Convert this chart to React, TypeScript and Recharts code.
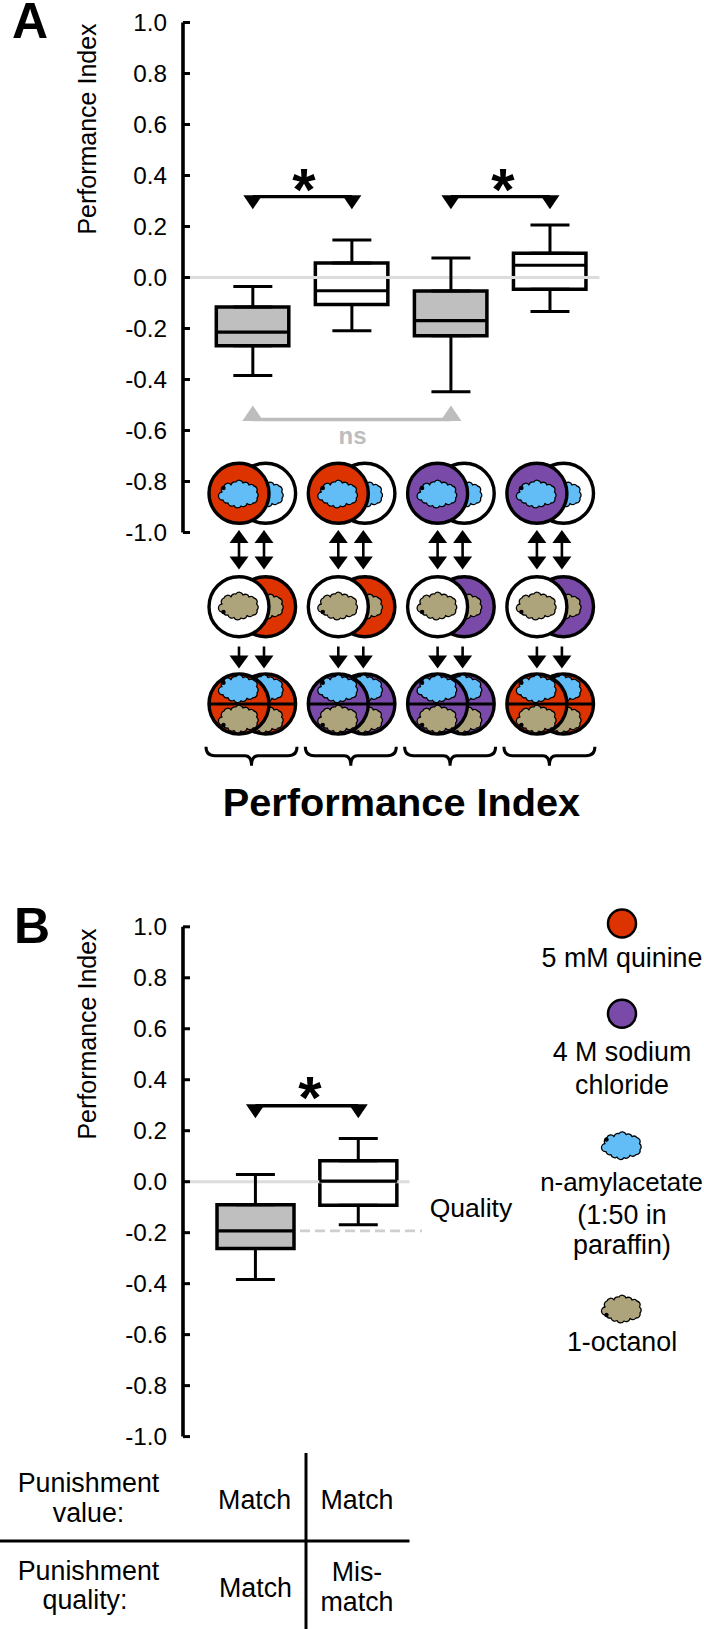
import React from 'react';
import { ComposedChart, Bar, Line, XAxis, YAxis, Cell, ErrorBar, ReferenceLine } from 'recharts';

// Panel A, four groups
const categoriesA = ['g1', 'g2', 'g3', 'g4'];
const whiskerLowA = [-0.384, -0.209, -0.448, -0.133];
const q1A = [-0.268, -0.106, -0.228, -0.046];
const medianA = [-0.214, -0.052, -0.169, 0.048];
const q3A = [-0.116, 0.057, -0.053, 0.095];
const whiskerHighA = [-0.035, 0.147, 0.076, 0.206];
const fillsA = ['#bfbfbf', '#ffffff', '#bfbfbf', '#ffffff'];
const bracketLeftA = [0.317, 0.317, null, null];
const bracketRightA = [null, null, 0.317, 0.317];
const bracketNsA = [-0.557, null, -0.557, null];

// Panel B, two groups
const categoriesB = ['match', 'mismatch'];
const whiskerLowB = [-0.384, -0.169];
const q1B = [-0.262, -0.092];
const medianB = [-0.193, 0.002];
const q3B = [-0.09, 0.082];
const whiskerHighB = [0.028, 0.169];
const fillsB = ['#bfbfbf', '#ffffff'];
const bracketB = [0.298, 0.298];

const yTicks = [1, 0.8, 0.6, 0.4, 0.2, 0, -0.2, -0.4, -0.6, -0.8, -1];

const FONT = '"Liberation Sans", Arial, sans-serif';
const RED = '#dd3300';
const PURPLE = '#7a4aa8';
const BLUE = '#62bcf5';
const TAN = '#aea47c';

// whiskers hang off the box edges so the stem never shows through the box
const buildRows = (cats: string[], lo: number[], q1: number[], med: number[], q3: number[], hi: number[]) =>
  cats.map((name, i) => ({
    name,
    median: med[i],
    q1: q1[i],
    q3: q3[i],
    box: [q1[i], q3[i]],
    lowErr: [q1[i] - lo[i], 0],
    highErr: [0, hi[i] - q3[i]],
  }));

const rowsA = buildRows(categoriesA, whiskerLowA, q1A, medianA, q3A, whiskerHighA).map((r, i) => ({
  ...r,
  left: bracketLeftA[i],
  right: bracketRightA[i],
  ns: bracketNsA[i],
}));
const rowsB = buildRows(categoriesB, whiskerLowB, q1B, medianB, q3B, whiskerHighB).map((r, i) => ({
  ...r,
  left: bracketB[i],
}));

const medianDot = (half: number) => (p: any) => (
  <line key={p.index} x1={p.cx - half} x2={p.cx + half} y1={p.cy} y2={p.cy} stroke="#000" strokeWidth={3.2} />
);

const downDot = (p: any) =>
  p.value == null || p.cy == null ? (
    <g key={p.index} />
  ) : (
    <path key={p.index} d={`M${p.cx - 9.5},${p.cy - 1.5} h19 l-9.5,14 z`} fill="#000" />
  );

const upDot = (p: any) =>
  p.value == null || p.cy == null ? (
    <g key={p.index} />
  ) : (
    <path key={p.index} d={`M${p.cx - 10.5},${p.cy + 1.5} h21 l-10.5,-15.5 z`} fill="#bdbdbd" />
  );

// scalloped outline of the odour cloud
const cloudEdge = [
  [-17, -2], [-15, -8], [-8, -9], [-3, -12], [4, -11], [10, -9], [15, -8], [17.5, -2], [18, 4],
  [14, 9], [8, 9.5], [2, 12], [-5, 11.5], [-11, 9], [-16, 6],
];
const cloudPath =
  `M${cloudEdge[0][0]},${cloudEdge[0][1]} ` +
  cloudEdge
    .slice(1)
    .concat([cloudEdge[0]])
    .map(([x, y]) => `A3.9,3.9 0 0 1 ${x},${y}`)
    .join(' ') +
  ' Z';

function Cloud({ x, y, fill, dotBelow }: { x: number; y: number; fill: string; dotBelow?: boolean }) {
  return (
    <g transform={`translate(${x},${y})`}>
      <path d={cloudPath} fill={fill} stroke="#000" strokeWidth={1.3} strokeLinejoin="round" />
      <circle cx={-15.5} cy={dotBelow ? 6 : -6} r={2.2} fill="#000" />
    </g>
  );
}

function Arrow({ x, y1, y2, both }: { x: number; y1: number; y2: number; both?: boolean }) {
  return (
    <g fill="#000">
      <line x1={x} x2={x} y1={y1 + 4} y2={y2 - 4} stroke="#000" strokeWidth={2.6} />
      <path d={`M${x - 9.5},${y2 - 13} h19 l-9.5,13 z`} />
      {both && <path d={`M${x - 9.5},${y1 + 13} h19 l-9.5,-13 z`} />}
    </g>
  );
}

const STEP = 99.3;
const R = 30;

function Dish({ x, y, fill, children }: { x: number; y: number; fill: string; children?: React.ReactNode }) {
  return (
    <g>
      <circle cx={x} cy={y} r={R} fill={fill} stroke="#000" strokeWidth={3.4} />
      {children}
    </g>
  );
}

function Group({ index, top, bottom }: { index: number; top: string; bottom: string }) {
  const x = 239 + index * STEP;
  const back = x + 26.6;
  const c2 = x + 25;
  return (
    <g>
      {/* first training step */}
      <Dish x={back} y={493.3} fill="#fff"><Cloud x={c2} y={494} fill={BLUE} /></Dish>
      <Dish x={x} y={493.3} fill={top}><Cloud x={x} y={494} fill={BLUE} /></Dish>
      <Arrow x={x} y1={530} y2={569.5} both />
      <Arrow x={x + 25} y1={530} y2={569.5} both />
      {/* second training step */}
      <Dish x={back} y={606.7} fill={top}><Cloud x={c2} y={606} fill={TAN} dotBelow /></Dish>
      <Dish x={x} y={606.7} fill="#fff"><Cloud x={x} y={606} fill={TAN} dotBelow /></Dish>
      <Arrow x={x} y1={642.5} y2={668.5} />
      <Arrow x={x + 25} y1={642.5} y2={668.5} />
      {/* test */}
      <Dish x={back} y={704} fill={bottom}>
        <line x1={back - R} x2={back + R} y1={704} y2={704} stroke="#000" strokeWidth={3} />
        <Cloud x={c2} y={688.7} fill={BLUE} />
        <Cloud x={c2} y={719} fill={TAN} dotBelow />
      </Dish>
      <Dish x={x} y={704} fill={bottom}>
        <line x1={x - R} x2={x + R} y1={704} y2={704} stroke="#000" strokeWidth={3} />
        <Cloud x={x} y={688.7} fill={BLUE} />
        <Cloud x={x} y={719} fill={TAN} dotBelow />
      </Dish>
      {/* brace */}
      <path
        transform={`translate(${206 + index * STEP},746.7)`}
        d="M0,0 Q0,9 9,9 H39 Q45.5,9 45.5,19 Q45.5,9 52,9 H82 Q91,9 91,0"
        fill="none"
        stroke="#000"
        strokeWidth={3}
      />
    </g>
  );
}

function Txt({ x, y, size = 26.8, weight, fill = '#000', anchor = 'middle', children, rotate }: any) {
  return (
    <text
      x={x}
      y={y}
      fontSize={size}
      fontWeight={weight}
      fill={fill}
      textAnchor={anchor}
      fontFamily={FONT}
      transform={rotate ? `rotate(${rotate} ${x} ${y})` : undefined}
    >
      {children}
    </text>
  );
}

const axisProps: any = {
  type: 'number',
  domain: [-1, 1],
  ticks: yTicks,
  interval: 0,
  allowDataOverflow: true,
  width: 60,
  tickFormatter: (v: number) => v.toFixed(1),
  tick: { fontSize: 24.3, fill: '#000', fontFamily: FONT },
  tickSize: -7,
  tickMargin: 23,
  axisLine: { stroke: '#000', strokeWidth: 3.6 },
  tickLine: { stroke: '#000', strokeWidth: 3 },
};

const whiskerProps: any = {
  direction: 'y',
  width: 19.5,
  stroke: '#000',
  strokeWidth: 3,
  isAnimationActive: false,
};

export default function App() {
  return (
    <div style={{ position: 'absolute', left: 0, top: 0, width: 704, height: 1629, background: '#fff', overflow: 'hidden' }}>
      <div style={{ position: 'absolute', left: 0, top: 0 }}>
        <ComposedChart width={704} height={560} data={rowsA} margin={{ top: 22.5, right: 104.5, bottom: 27.5, left: 123 }}>
          <XAxis dataKey="name" hide padding={{ left: 20.3, right: 0 }} />
          <YAxis {...axisProps} />
          <ReferenceLine y={0} stroke="#dcdcdc" strokeWidth={3} />
          <Line dataKey="q1" stroke="none" dot={false} isAnimationActive={false}>
            <ErrorBar dataKey="lowErr" {...whiskerProps} />
          </Line>
          <Line dataKey="q3" stroke="none" dot={false} isAnimationActive={false}>
            <ErrorBar dataKey="highErr" {...whiskerProps} />
          </Line>
          <Bar dataKey="box" barSize={72.5} stroke="#000" strokeWidth={3.5} isAnimationActive={false}>
            {fillsA.map((f, i) => (
              <Cell key={i} fill={f} />
            ))}
          </Bar>
          <Line dataKey="median" stroke="none" dot={medianDot(37)} isAnimationActive={false} />
          <Line dataKey="left" stroke="#000" strokeWidth={3.4} connectNulls dot={downDot} isAnimationActive={false} />
          <Line dataKey="right" stroke="#000" strokeWidth={3.4} connectNulls dot={downDot} isAnimationActive={false} />
          <Line dataKey="ns" stroke="#bdbdbd" strokeWidth={3.4} connectNulls dot={upDot} isAnimationActive={false} />
        </ComposedChart>
      </div>

      <div style={{ position: 'absolute', left: 0, top: 900 }}>
        <ComposedChart width={704} height={560} data={rowsB} margin={{ top: 26.8, right: 282, bottom: 23.4, left: 123 }}>
          <XAxis dataKey="name" hide padding={{ left: 21, right: 12.3 }} />
          <YAxis {...axisProps} />
          <ReferenceLine
            y={0}
            shape={(p: any) => <line x1={p.x1} x2={409.5} y1={p.y1} y2={p.y2} stroke="#dcdcdc" strokeWidth={3} />}
          />
          <ReferenceLine
            y={medianB[0]}
            shape={(p: any) => (
              <line x1={300} x2={422} y1={p.y1} y2={p.y2} stroke="#cfcfcf" strokeWidth={2.6} strokeDasharray="10 5" />
            )}
          />
          <Line dataKey="q1" stroke="none" dot={false} isAnimationActive={false}>
            <ErrorBar dataKey="lowErr" {...whiskerProps} />
          </Line>
          <Line dataKey="q3" stroke="none" dot={false} isAnimationActive={false}>
            <ErrorBar dataKey="highErr" {...whiskerProps} />
          </Line>
          <Bar dataKey="box" barSize={77} stroke="#000" strokeWidth={3.5} isAnimationActive={false}>
            {fillsB.map((f, i) => (
              <Cell key={i} fill={f} />
            ))}
          </Bar>
          <Line dataKey="median" stroke="none" dot={medianDot(39)} isAnimationActive={false} />
          <Line dataKey="left" stroke="#000" strokeWidth={3.4} dot={downDot} isAnimationActive={false} />
        </ComposedChart>
      </div>

      <svg width={704} height={1629} style={{ position: 'absolute', left: 0, top: 0, pointerEvents: 'none' }}>
        <Txt x={12} y={38} size={50} weight="bold" anchor="start">A</Txt>
        <Txt x={14} y={943} size={50} weight="bold" anchor="start">B</Txt>
        <Txt x={96} y={129} size={25} rotate={-90}>Performance Index</Txt>
        <Txt x={96} y={1034} size={25} rotate={-90}>Performance Index</Txt>

        <Txt x={304} y={209.5} size={60} weight="bold">*</Txt>
        <Txt x={503} y={209.5} size={60} weight="bold">*</Txt>
        <Txt x={310} y={1118} size={60} weight="bold">*</Txt>
        <Txt x={352.5} y={444} size={24} weight="bold" fill="#bdbdbd">ns</Txt>

        <Group index={0} top={RED} bottom={RED} />
        <Group index={1} top={RED} bottom={PURPLE} />
        <Group index={2} top={PURPLE} bottom={PURPLE} />
        <Group index={3} top={PURPLE} bottom={RED} />

        <Txt x={401.5} y={816} size={39.7} weight="bold">Performance Index</Txt>

        <Txt x={471} y={1217} size={26.5}>Quality</Txt>

        {/* legend */}
        <circle cx={622} cy={923.5} r={14} fill={RED} stroke="#000" strokeWidth={2.5} />
        <Txt x={622} y={967.4}>5 mM quinine</Txt>
        <circle cx={622} cy={1013.8} r={14} fill={PURPLE} stroke="#000" strokeWidth={2.5} />
        <Txt x={622} y={1060.6}>4 M sodium</Txt>
        <Txt x={622} y={1093.6}>chloride</Txt>
        <Cloud x={622} y={1145.6} fill={BLUE} />
        <Txt x={621.5} y={1190.6} size={25.9}>n-amylacetate</Txt>
        <Txt x={622} y={1224}>(1:50 in</Txt>
        <Txt x={622} y={1254}>paraffin)</Txt>
        <Cloud x={622} y={1309} fill={TAN} dotBelow />
        <Txt x={622} y={1350.6}>1-octanol</Txt>

        {/* table under panel B */}
        <line x1={306} x2={306} y1={1453} y2={1629} stroke="#000" strokeWidth={3} />
        <line x1={0} x2={409.5} y1={1541} y2={1541} stroke="#000" strokeWidth={3} />
        <Txt x={88.5} y={1491.6}>Punishment</Txt>
        <Txt x={88.5} y={1521.7}>value:</Txt>
        <Txt x={254.6} y={1508.8}>Match</Txt>
        <Txt x={357} y={1508.8}>Match</Txt>
        <Txt x={88.5} y={1580}>Punishment</Txt>
        <Txt x={85} y={1608.6}>quality:</Txt>
        <Txt x={255.5} y={1596.7}>Match</Txt>
        <Txt x={357} y={1581}>Mis-</Txt>
        <Txt x={357} y={1611}>match</Txt>
      </svg>
    </div>
  );
}
